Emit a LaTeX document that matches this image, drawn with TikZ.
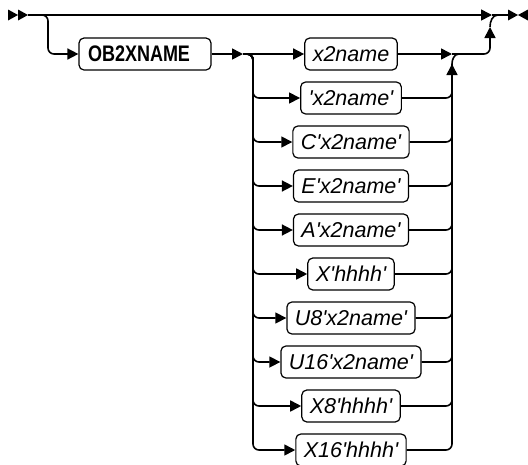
\documentclass[tikz,border=0pt]{standalone}
\usepackage{fontspec}
\newfontfamily\rrfont[Ligatures=TeXOff]{Liberation Sans}
\newfontfamily\obfont[FakeStretch=0.8]{Liberation Sans}
\usetikzlibrary{arrows.meta}
\begin{document}
\begin{tikzpicture}[x=1pt,y=-1pt,
  conn/.style={line width=1.6pt},
  arr/.style={-{Triangle[length=11pt,width=11pt]}},
  rc/.style={conn,rounded corners=6pt},
  rbox/.style={draw,line width=1.2pt,rounded corners=5pt,minimum height=32pt,inner xsep=8pt,inner ysep=0pt,
    font=\fontsize{21.5}{24}\selectfont\rrfont\itshape},
  obbox/.style={draw,line width=1.2pt,rounded corners=5pt,minimum height=32pt,inner xsep=9pt,inner ysep=0pt,
    text width=114pt,align=left,font=\fontsize{22.5}{24}\selectfont\obfont\bfseries}]
\useasboundingbox (0,0) rectangle (528,464);

% start and end markers
\fill (8,9.5) -- (18,15) -- (8,20.5) -- cycle;
\fill (18,9.5) -- (28,15) -- (18,20.5) -- cycle;
\fill (508,9.5) -- (518,15) -- (508,20.5) -- cycle;
\fill (528,9.5) -- (518,15) -- (528,20.5) -- cycle;

\coordinate (S) at (28,15);
\coordinate (J4) at (492,15);
\coordinate (E) at (508,15);
\coordinate (J1) at (243,54);
\coordinate (L) at (253,54);
\coordinate (J2) at (452,54);
\coordinate (Rv) at (452,64);
\coordinate (J3) at (490,27);

\node[obbox] (ob) at (145,54) {OB2XNAME};

\foreach \i/\y/\t in {1/54/x2name, 2/98/'x2name', 3/142/C'x2name', 4/186/E'x2name', 5/230/A'x2name',
  6/274/X'hhhh', 7/318/U8'x2name', 8/362/U16'x2name', 9/406/X8'hhhh', 10/450/X16'hhhh'}
  \node[rbox] (b\i) at (351,\y) {\t};

% main line
\draw[conn,arr] (S) -- (J4);
\draw[conn] (J4) -- (E);
\draw[rc,arr] (S) -- (48,15) |- (ob.west);
\draw[conn,arr] (ob.east) -- (J1);
\draw[conn,arr] (J1) -- (b1.west);
\foreach \i in {2,...,10}
  \draw[rc,arr] (J1) -- (L) |- (b\i.west);
\draw[conn,arr] (b1.east) -- (J2);
\foreach \i in {2,...,9}
  \draw[rc] (b\i.east) -| (Rv);
\draw[rc,arr] (b10.east) -| (Rv);
\draw[conn] (Rv) to[out=90,in=180] (459,54);
\draw[rc,arr] (J2) -| (J3);
\draw[conn] (J3) to[out=90,in=180] (498,15);
\end{tikzpicture}
\end{document}
